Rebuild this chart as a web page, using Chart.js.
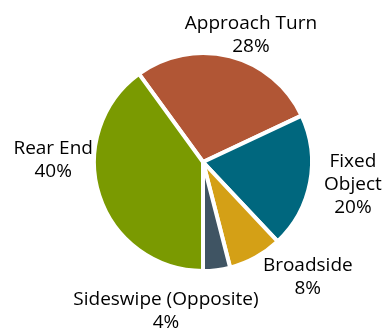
<!DOCTYPE html>
<html>
<head>
<meta charset="utf-8">
<script src="https://cdn.jsdelivr.net/npm/chart.js@4"></script>
<style>
  html, body { margin: 0; padding: 0; background: #fff; }
  #wrap { width: 383px; height: 331px; }
</style>
</head>
<body>
<div id="wrap"><canvas id="pieChart"></canvas></div>
<script>
const categories = ["Approach Turn", "Fixed Object", "Broadside", "Sideswipe (Opposite)", "Rear End"];
const shares = [28, 20, 8, 4, 40];
const labelLines = [["Approach Turn"], ["Fixed", "Object"], ["Broadside"], ["Sideswipe (Opposite)"], ["Rear End"]];
const colors = ["#B15635", "#00677E", "#D4A016", "#3F5463", "#7A9A01"];

// where each label sits: angle from top (deg, clockwise) and distance in pie radii
const labelPlaces = [
  [20.7, 1.222],
  [98.7, 1.366],
  [137.6, 1.40],
  [194, 1.38],
  [270.8, 1.35],
];

const labelPlugin = {
  id: "sliceLabels",
  afterDatasetsDraw(chart) {
    const ctx = chart.ctx;
    const meta = chart.getDatasetMeta(0);
    ctx.save();
    ctx.font = "19px 'Open Sans'";
    ctx.fillStyle = "#000";
    ctx.textAlign = "center";
    ctx.textBaseline = "middle";
    meta.data.forEach((arc, i) => {
      const r = arc.outerRadius + 2;
      const a = (labelPlaces[i][0] * Math.PI) / 180;
      const cx = arc.x + Math.sin(a) * r * labelPlaces[i][1];
      const cy = arc.y - Math.cos(a) * r * labelPlaces[i][1];
      const lines = labelLines[i].concat([shares[i] + "%"]);
      const lh = 23;
      const top = cy - ((lines.length - 1) * lh) / 2;
      lines.forEach((t, j) => ctx.fillText(t, cx, top + j * lh));
    });
    ctx.restore();
  },
};

const pieCtx = document.getElementById("pieChart").getContext("2d");
new Chart(pieCtx, {
  type: "pie",
  data: {
    labels: categories,
    datasets: [
      {
        data: shares,
        backgroundColor: colors,
        borderColor: "#ffffff",
        borderWidth: 4,
      },
    ],
  },
  options: {
    responsive: true,
    maintainAspectRatio: false,
    animation: false,
    rotation: -36,
    layout: {
      padding: { left: 92, right: 69, top: 51, bottom: 58 },
    },
    plugins: {
      legend: { display: false },
      tooltip: { enabled: false },
    },
  },
  plugins: [labelPlugin],
});
</script>
</body>
</html>
